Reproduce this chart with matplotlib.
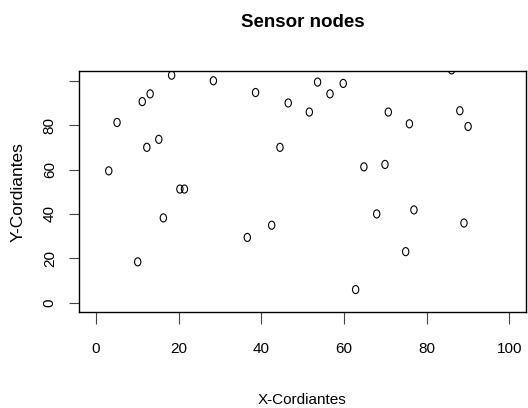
import numpy as np
import matplotlib.pyplot as plt
from matplotlib.path import Path

plt.rcParams['font.family'] = ['Liberation Sans', 'DejaVu Sans']

# sensor node coordinates
x_nodes = [18.3, 28.4, 38.6, 46.5, 13.1, 11.2, 5.1, 15.2, 12.3, 44.5, 3.1,
           20.3, 21.4, 16.3, 42.5, 36.6, 10.1,
           53.6, 56.6, 59.8, 51.6, 70.7, 75.8, 86.0, 88.0, 90.0,
           64.8, 69.9, 67.9, 76.9, 89.0, 74.9, 62.8]
y_nodes = [102.5, 100.0, 94.7, 90.0, 94.1, 90.6, 81.2, 73.6, 70.0, 70.0, 59.4,
           51.2, 51.2, 38.2, 34.9, 29.4, 18.4,
           99.4, 94.1, 98.8, 85.9, 85.9, 80.6, 104.9, 86.5, 79.4,
           61.2, 62.3, 40.0, 41.8, 35.9, 23.0, 5.9]
x_ticks = [0, 20, 40, 60, 80, 100]
y_ticks = [0, 20, 40, 60, 80, 100]
y_tick_labels = ["0", "20", "40", "60", "80", ""]

# the original picture is a bit stretched vertically, so the circles are ovals
circ = Path.unit_circle()
oval = Path(circ.vertices * [0.78, 1.0], circ.codes)

fig = plt.figure(figsize=(5.28, 4.08), dpi=100)
ax = fig.add_axes([79 / 528, 1 - 312 / 408, 447 / 528, 241 / 408])

ax.scatter(x_nodes, y_nodes, s=34, marker=oval, facecolors='none',
           edgecolors='black', linewidths=0.8)

ax.set_xlim(-4.1, 104.0)
ax.set_ylim(-4.2, 104.4)
ax.set_xticks(x_ticks)
ax.set_yticks(y_ticks)
ax.set_yticklabels(y_tick_labels, rotation=90, va='center')
ax.tick_params(axis='x', length=8.5, width=0.8, color='#444444', pad=13,
               labelsize=11)
ax.tick_params(axis='y', length=7, width=0.8, color='#444444', pad=9,
               labelsize=11)
for sp in ax.spines.values():
    sp.set_linewidth(1.0)
    sp.set_color('black')

fig.text(302.5 / 528, 1 - 22.5 / 408, "Sensor nodes", ha='center',
         va='center', fontsize=13.5, fontweight='bold')
fig.text(302.5 / 528, 1 - 400 / 408, "X-Cordiantes", ha='center',
         va='center', fontsize=11)
fig.text(18 / 528, 1 - 192 / 408, "Y-Cordiantes", ha='center',
         va='center', fontsize=12.5, rotation=90)

fig.savefig("out.png", dpi=100)
